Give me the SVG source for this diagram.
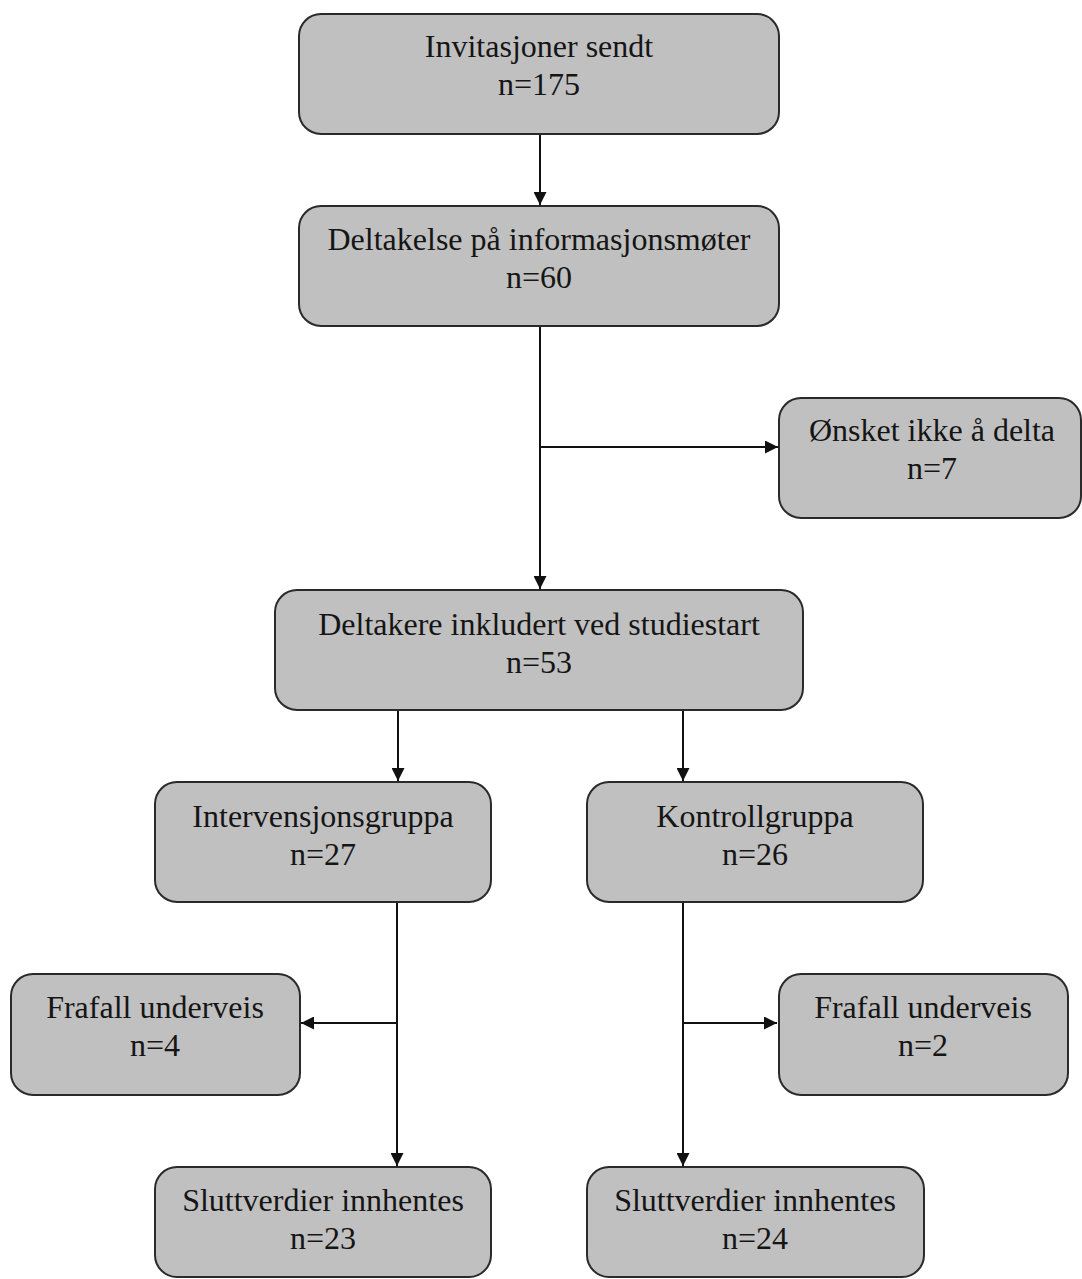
<svg xmlns="http://www.w3.org/2000/svg" width="1082" height="1279" viewBox="0 0 1082 1279">
<style>
.box{fill:#c0c0c0;stroke:#2a2a2a;stroke-width:2}
.t{font-family:"Liberation Serif","Times New Roman",serif;font-size:32px;fill:#151515;text-anchor:middle}
.c{stroke:#111;stroke-width:2;fill:none}
</style>
<defs>
<marker id="ah" viewBox="0 0 10 10" refX="10" refY="5" markerWidth="13" markerHeight="13" markerUnits="userSpaceOnUse" orient="auto">
<path d="M0,0 L10,5 L0,10 z" fill="#111"/>
</marker>
</defs>
<rect width="1082" height="1279" fill="#fff"/>
<g id="connectors">
<line class="c" x1="540" y1="134" x2="540" y2="205" marker-end="url(#ah)"/>
<line class="c" x1="540" y1="326" x2="540" y2="589" marker-end="url(#ah)"/>
<line class="c" x1="540" y1="447" x2="778" y2="447" marker-end="url(#ah)"/>
<line class="c" x1="398" y1="710" x2="398" y2="781" marker-end="url(#ah)"/>
<line class="c" x1="683" y1="710" x2="683" y2="781" marker-end="url(#ah)"/>
<line class="c" x1="397" y1="902" x2="397" y2="1166" marker-end="url(#ah)"/>
<line class="c" x1="397" y1="1023" x2="301" y2="1023" marker-end="url(#ah)"/>
<line class="c" x1="683" y1="902" x2="683" y2="1166" marker-end="url(#ah)"/>
<line class="c" x1="683" y1="1023" x2="777" y2="1023" marker-end="url(#ah)"/>
</g>
<g id="n1"><rect class="box" x="299" y="14" width="480" height="120" rx="22"/>
<text class="t" x="539" y="57">Invitasjoner sendt</text><text class="t" x="539" y="95">n=175</text></g>
<g id="n2"><rect class="box" x="299" y="206" width="480" height="120" rx="22"/>
<text class="t" x="539" y="250">Deltakelse på informasjonsmøter</text><text class="t" x="539" y="288">n=60</text></g>
<g id="n3"><rect class="box" x="779" y="398" width="302" height="120" rx="22"/>
<text class="t" x="932" y="441">Ønsket ikke å delta</text><text class="t" x="932" y="479">n=7</text></g>
<g id="n4"><rect class="box" x="275" y="590" width="528" height="120" rx="22"/>
<text class="t" x="539" y="635">Deltakere inkludert ved studiestart</text><text class="t" x="539" y="673">n=53</text></g>
<g id="n5"><rect class="box" x="155" y="782" width="336" height="120" rx="22"/>
<text class="t" x="323" y="827">Intervensjonsgruppa</text><text class="t" x="323" y="865">n=27</text></g>
<g id="n6"><rect class="box" x="587" y="782" width="336" height="120" rx="22"/>
<text class="t" x="755" y="827">Kontrollgruppa</text><text class="t" x="755" y="865">n=26</text></g>
<g id="n7"><rect class="box" x="11" y="974" width="289" height="121" rx="22"/>
<text class="t" x="155" y="1018">Frafall underveis</text><text class="t" x="155" y="1056">n=4</text></g>
<g id="n8"><rect class="box" x="779" y="974" width="289" height="121" rx="22"/>
<text class="t" x="923" y="1018">Frafall underveis</text><text class="t" x="923" y="1056">n=2</text></g>
<g id="n9"><rect class="box" x="155" y="1167" width="336" height="110" rx="22"/>
<text class="t" x="323" y="1211">Sluttverdier innhentes</text><text class="t" x="323" y="1249">n=23</text></g>
<g id="n10"><rect class="box" x="587" y="1167" width="337" height="110" rx="22"/>
<text class="t" x="755" y="1211">Sluttverdier innhentes</text><text class="t" x="755" y="1249">n=24</text></g>
</svg>
